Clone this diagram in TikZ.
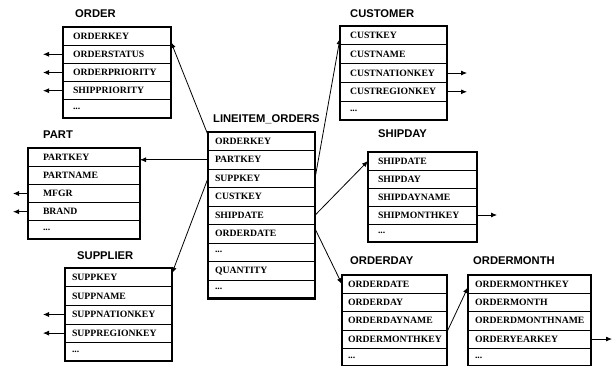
\documentclass[tikz,border=0pt]{standalone}
\usepackage{fontspec}
\setmainfont{Liberation Serif}
\newfontfamily\dbtitlefont{Liberation Sans}
\usetikzlibrary{arrows.meta}
\newcommand\dbdots{...}
\newcommand\dbtable[8]{%
  \pgfmathsetmacro\dbtw{#4-2*#7}%
  \foreach \t [count=\i] in {#8} {%
    \node[dbrow, minimum width=#4pt, minimum height=#5pt, inner xsep=#7pt, anchor=north west]
      (#1-\i) at (#2, {#3+(\i-1)*#5}) {\makebox[\dbtw pt][l]{\t}};
  }%
  \draw[dbouter] (#1-1.north west) rectangle (#1-#6.south east);
}
\begin{document}
\begin{tikzpicture}[x=1pt, y=-1pt,
  dbrow/.style={draw, line width=0.6pt, inner ysep=0pt, outer sep=0pt,
    font=\fontsize{9.7}{10}\selectfont\bfseries},
  dbouter/.style={line width=2.6pt},
  dbtitle/.style={anchor=base west, inner sep=0pt, font=\dbtitlefont\fontsize{11.2}{12}\selectfont\bfseries},
  conn/.style={line width=0.8pt, -{Latex[length=6pt,width=5pt]}}]
\useasboundingbox (0,0) rectangle (613,366);

% tables
\dbtable{o}{63}{27}{108}{18.2}{5}{10}{ORDERKEY,ORDERSTATUS,ORDERPRIORITY,SHIPPRIORITY,\dbdots}
\dbtable{p}{28}{148}{112}{18.2}{5}{15}{PARTKEY,PARTNAME,MFGR,BRAND,\dbdots}
\dbtable{s}{65}{268}{107}{18.6}{5}{7}{SUPPKEY,SUPPNAME,SUPPNATIONKEY,SUPPREGIONKEY,\dbdots}
\dbtable{li}{208}{132}{107}{18.5}{9}{7}{ORDERKEY,PARTKEY,SUPPKEY,CUSTKEY,SHIPDATE,ORDERDATE,\dbdots,QUANTITY,\dbdots}
\dbtable{c}{340}{26}{107}{18.8}{5}{10}{CUSTKEY,CUSTNAME,CUSTNATIONKEY,CUSTREGIONKEY,\dbdots}
\dbtable{sd}{368}{152}{109}{18}{5}{10}{SHIPDATE,SHIPDAY,SHIPDAYNAME,SHIPMONTHKEY,\dbdots}
\dbtable{od}{342}{275}{105}{18.3}{5}{6}{ORDERDATE,ORDERDAY,ORDERDAYNAME,ORDERMONTHKEY,\dbdots}
\dbtable{om}{468}{275}{123}{18.3}{5}{7}{ORDERMONTHKEY,ORDERMONTH,ORDERDMONTHNAME,ORDERYEARKEY,\dbdots}

% titles
\node[dbtitle] (ot) at (75,18) {ORDER};
\node[dbtitle] (pt) at (43,139) {PART};
\node[dbtitle] (st) at (77,259) {SUPPLIER};
\node[dbtitle] (lit) at (213,123) {LINEITEM\_ORDERS};
\node[dbtitle] (ct) at (350,18) {CUSTOMER};
\node[dbtitle] (sdt) at (378,138) {SHIPDAY};
\node[dbtitle] (odt) at (350,265) {ORDERDAY};
\node[dbtitle] (omt) at (473,265) {ORDERMONTH};

% foreign keys from the fact table
\draw[conn] ([yshift=-3pt]li-1.north west) -- ([yshift=-6pt]o-1.east);
\draw[conn] (li-2.west) -- (li-2.west -| p-1.east);
\draw[conn] (li-3.west) -- ([yshift=4pt]s-1.east);
\draw[conn] ([yshift=9pt]li-4.north east) -- ([yshift=-3pt]c-1.west);
\draw[conn] (li-5.east) -- (sd-1.west);
\draw[conn] ([yshift=5pt]li-6.east) -- (od-1.west);
\draw[conn] ([yshift=-2pt]od-4.north east) -- ([yshift=-3pt]om-1.west);

% outgoing stubs
\foreach \r in {2,3,4} \draw[conn] (o-\r.west) -- ++(-20,0);
\foreach \r in {3,4} \draw[conn] (p-\r.west) -- ++(-15,0);
\foreach \r in {3,4} \draw[conn] (s-\r.west) -- ++(-22,0);
\foreach \r in {3,4} \draw[conn] (c-\r.east) -- ++(20,0);
\draw[conn] (sd-4.east) -- ++(20,0);
\draw[conn] (om-4.east) -- ++(21,0);
\end{tikzpicture}
\end{document}
